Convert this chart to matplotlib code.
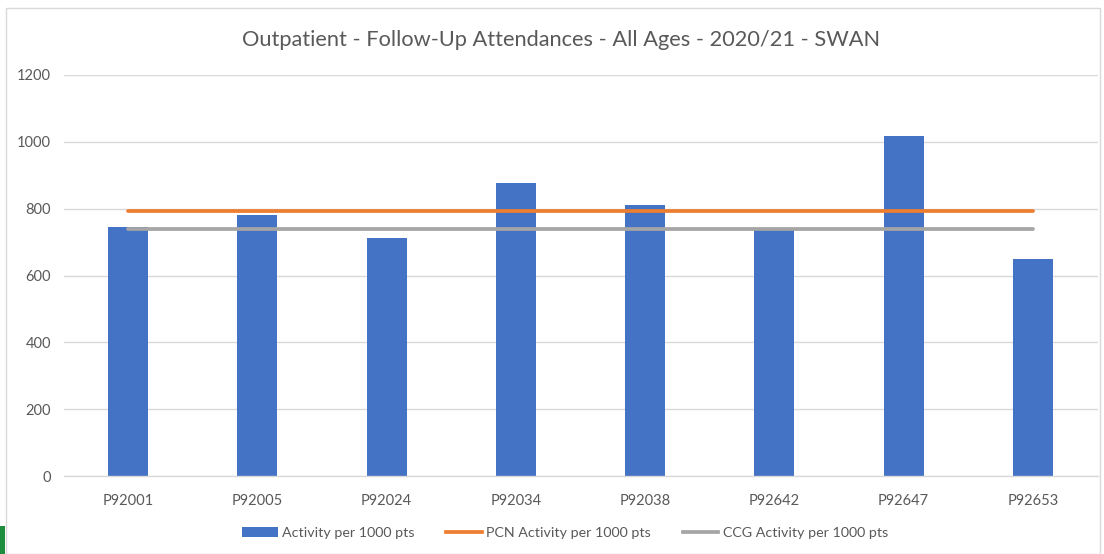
import matplotlib
matplotlib.use("Agg")
import matplotlib.pyplot as plt
from matplotlib.patches import Rectangle
from matplotlib.lines import Line2D
from matplotlib.patches import Patch

categories = ["P92001", "P92005", "P92024", "P92034", "P92038", "P92642", "P92647", "P92653"]
activity = [744, 780, 712, 876, 810, 735, 1017, 648]
pcn_activity = [792] * len(categories)
ccg_activity = [738] * len(categories)
y_ticks = [0, 200, 400, 600, 800, 1000, 1200]

plt.rcParams['font.family'] = ['Lato', 'DejaVu Sans']

W, H = 1104, 554
fig = plt.figure(figsize=(W / 100, H / 100), dpi=100)
ax = fig.add_axes([63.5 / W, 1 - 476 / H, (1097.5 - 63.5) / W, (476 - 75) / H])

text_col = "#595959"
x = list(range(len(categories)))
ax.bar(x, activity, width=0.31, color="#4472C4", zorder=2)
ax.plot(x, pcn_activity, color="#ED7D31", lw=2.7, solid_capstyle="round", zorder=3)
ax.plot(x, ccg_activity, color="#A5A5A5", lw=2.7, solid_capstyle="round", zorder=3)

ax.set_xlim(-0.5, len(categories) - 0.5)
ax.set_ylim(0, 1200)
ax.set_yticks(y_ticks)
ax.set_yticklabels([str(v) for v in y_ticks])
ax.set_xticks(x)
ax.set_xticklabels(categories)
ax.grid(axis="y", color="#D9D9D9", lw=1.0, zorder=0)
ax.set_axisbelow(True)
for s in ["top", "right", "left"]:
    ax.spines[s].set_visible(False)
ax.spines["bottom"].set_color("#D9D9D9")
ax.spines["bottom"].set_linewidth(1.0)
ax.tick_params(axis="both", length=0, colors=text_col, labelsize=10.5)
ax.tick_params(axis="x", pad=13)
ax.tick_params(axis="y", pad=9)

fig.text(561 / W, 1 - 40 / H, "Outpatient - Follow-Up Attendances - All Ages - 2020/21 - SWAN",
         ha="center", va="center", fontsize=15.7, color=text_col)

handles = [
    Patch(facecolor="#4472C4", edgecolor="none"),
    Line2D([0], [0], color="#ED7D31", lw=2.7),
    Line2D([0], [0], color="#A5A5A5", lw=2.7),
]
labels = ["Activity per 1000 pts", "PCN Activity per 1000 pts", "CCG Activity per 1000 pts"]
fig.legend(handles, labels, loc="center", bbox_to_anchor=(565 / W, 1 - 533 / H), ncol=3,
           frameon=False, fontsize=10.3, labelcolor=text_col, handlelength=2.5,
           handletextpad=0.3, columnspacing=2.2)

# chart area border
fig.patches.append(Rectangle((6 / W, 0), (W - 6 - 4) / W, 1 - 8 / H, transform=fig.transFigure,
                             fill=False, edgecolor="#D9D9D9", lw=1.0))
# green artifact bottom-left
fig.patches.append(Rectangle((0, 0), 5 / W, 28 / H, transform=fig.transFigure,
                             facecolor="#1E8E3E", edgecolor="none"))

fig.savefig("out.png", dpi=100)
